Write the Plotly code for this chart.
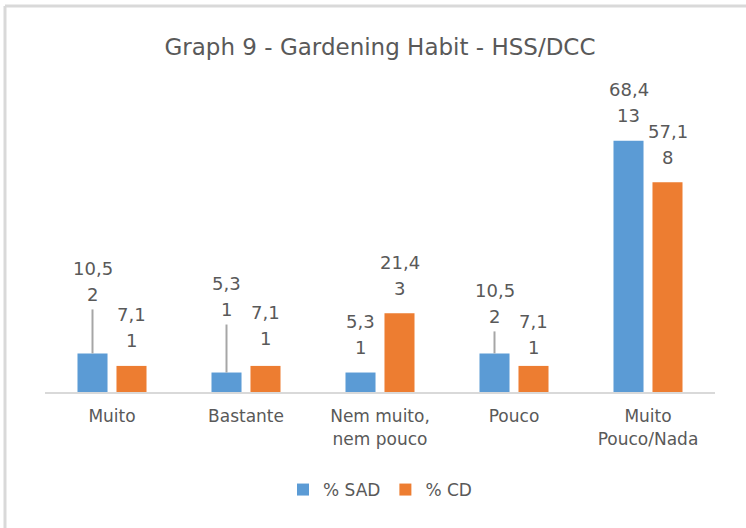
import plotly.graph_objects as go

categories = ["Muito", "Bastante", "Nem muito,<br>nem pouco", "Pouco", "Muito<br>Pouco/Nada"]
sad_pct = [10.5, 5.3, 5.3, 10.5, 68.4]
sad_n = [2, 1, 1, 2, 13]
cd_pct = [7.1, 7.1, 21.4, 7.1, 57.1]
cd_n = [1, 1, 3, 1, 8]
series_names = ["% SAD", "% CD"]
title_text = "Graph 9 - Gardening Habit - HSS/DCC"

# style: extra label lift in px (labels moved by hand in original, with leader lines)
sad_lift = [34, 38, 0, 12, 0]
cd_lift = [0, 2, 0, -7, 0]

BLUE = "#5B9BD5"
ORANGE = "#ED7D31"
TXT = "#595959"
FONT = "DejaVu Sans"

W, H = 746, 528
ML, MR, MT, MB = 45, 31, 98, 136
BARGAP, GROUPGAP = 0.418, 0.23
slot = (1 - BARGAP) / 2
offs = [-slot / 2, slot / 2]

fig = go.Figure()
fig.add_trace(go.Bar(x=categories, y=sad_pct, name=series_names[0], marker_color=BLUE,
                     marker_line_width=0, hoverinfo="skip"))
fig.add_trace(go.Bar(x=categories, y=cd_pct, name=series_names[1], marker_color=ORANGE,
                     marker_line_width=0, hoverinfo="skip"))

def fmt(v):
    return f"{v:.1f}".replace(".", ",")

for s, (pcts, ns, lifts) in enumerate([(sad_pct, sad_n, sad_lift), (cd_pct, cd_n, cd_lift)]):
    for i, (p, n, lift) in enumerate(zip(pcts, ns, lifts)):
        xpos = i + offs[s]
        fig.add_annotation(x=xpos, y=p, xref="x", yref="y", text=str(n), showarrow=False,
                           yanchor="middle", yshift=25 + lift,
                           font=dict(family=FONT, size=18, color=TXT))
        fig.add_annotation(x=xpos, y=p, xref="x", yref="y", text=fmt(p), showarrow=False,
                           yanchor="middle", yshift=51 + lift,
                           font=dict(family=FONT, size=18, color=TXT))
        if lift > 5:
            fig.add_shape(type="line", xref="x", yref="y", ysizemode="pixel", yanchor=p,
                          x0=xpos, x1=xpos, y0=0, y1=lift + 10,
                          line=dict(color="#A6A6A6", width=2))

# outer frame lines (top, left)
pw, ph = W - ML - MR, H - MT - MB
def px2x(px):
    return (px - ML) / pw
def py2y(py):
    return (H - MB - py) / ph
fig.add_shape(type="line", xref="paper", yref="paper", x0=px2x(5), x1=px2x(760),
              y0=py2y(6), y1=py2y(6), line=dict(color="#D9D9D9", width=3))
fig.add_shape(type="line", xref="paper", yref="paper", x0=px2x(5), x1=px2x(5),
              y0=py2y(6), y1=py2y(540), line=dict(color="#D9D9D9", width=3))

fig.update_layout(
    width=W, height=H,
    margin=dict(l=ML, r=MR, t=MT, b=MB),
    paper_bgcolor="white", plot_bgcolor="white",
    barmode="group", bargap=BARGAP, bargroupgap=GROUPGAP,
    title=dict(text=title_text, x=0.5, xref="paper", y=1 - 47 / H, yref="container",
               xanchor="center", yanchor="middle",
               font=dict(family=FONT, size=23, color=TXT)),
    xaxis=dict(showline=True, linecolor="#D9D9D9", linewidth=2, ticks="", showgrid=False,
               tickfont=dict(family=FONT, size=17, color=TXT), ticklabelstandoff=8),
    yaxis=dict(range=[0, 80], visible=False, showgrid=False, zeroline=False),
    legend=dict(orientation="h", x=0.5, xanchor="center", xref="paper",
                y=1 - 490 / H, yref="container", yanchor="middle",
                font=dict(family=FONT, size=17, color=TXT), itemwidth=30,
                traceorder="normal"),
    showlegend=True,
)

fig.write_html("out.html", config={"displayModeBar": False},
               post_script="document.body.style.margin='0px';")
